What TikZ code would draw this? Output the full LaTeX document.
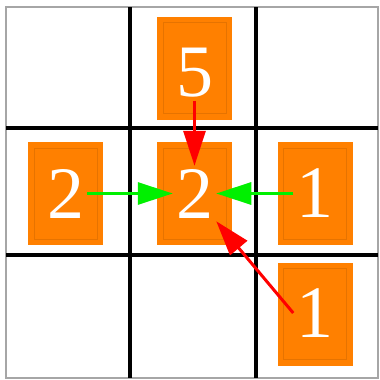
\documentclass[tikz,border=0pt]{standalone}
\usepackage{fontspec}
\setmainfont{Liberation Serif}
\usepackage{tikz}
\usetikzlibrary{arrows.meta}
\definecolor{boxorange}{HTML}{FF8000}
\definecolor{rimorange}{HTML}{E67300}
\definecolor{arrowred}{HTML}{FF0000}
\definecolor{arrowgreen}{HTML}{00F000}
\begin{document}
\begin{tikzpicture}[x=1pt,y=-1pt,line width=.5pt,
  card/.style={fill=boxorange,draw=rimorange,line width=.8pt,inner sep=0pt,
    minimum width=63pt,minimum height=91pt,
    preaction={draw=boxorange,line width=12pt}},
  digit/.style={text=white,inner sep=3pt,font=\fontsize{74}{74}\selectfont},
  flow/.style={line width=3pt,-{Triangle[length=35pt,width=22pt]}}]
\path[use as bounding box] (0,0) rectangle (380,380);
\fill[white] (0,0) rectangle (380,380);
% grid
\draw[gray!70,line width=1.5pt] (6,7) rectangle (378,378);
\draw[line width=4pt] (130,7) -- (130,378);
\draw[line width=4pt] (256,7) -- (256,378);
\draw[line width=4pt] (6,128) -- (378,128);
\draw[line width=4pt] (6,255) -- (378,255);
% cards
\node[card] (ctop) at (194.5,68) {};
\node[card] (cleft) at (65.5,193.5) {};
\node[card] (cmid) at (194.5,193.5) {};
\node[card] (cright) at (315,193.5) {};
\node[card] (cdiag) at (315,314) {};
\node[digit] (dtop) at (194.5,73) {5};
\node[digit] (dleft) at (65.5,193.5) {2};
\node[digit] (dmid) at (194.5,193.5) {2};
\node[digit] (dright) at (315,193.5) {1};
\node[digit] (ddiag) at (315,313) {1};
% arrows
\draw[flow,arrowred] (dtop.south) -- (dmid.north);
\draw[flow,arrowgreen] (dleft.east) -- (dmid.west);
\draw[flow,arrowgreen] (dright.west) -- (dmid.east);
\draw[flow,arrowred] (ddiag.west) -- (dmid.south east);
\end{tikzpicture}
\end{document}
